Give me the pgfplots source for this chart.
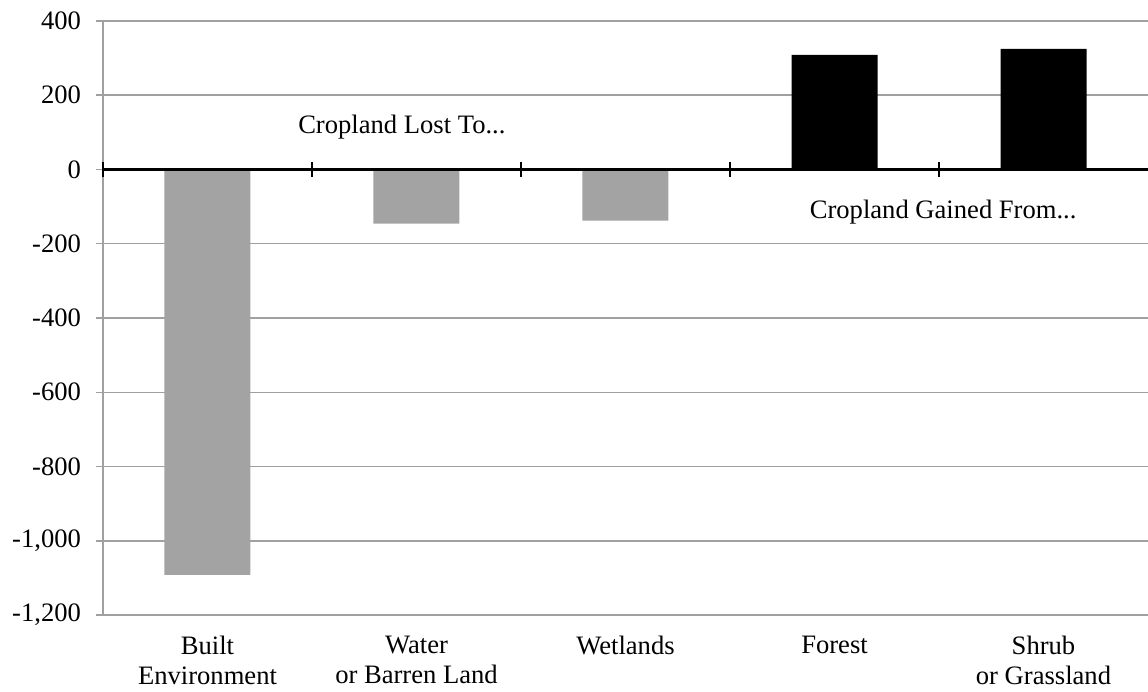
\documentclass[border=0pt]{standalone}
\usepackage{fontspec}
\setmainfont{Liberation Serif}
\usepackage{pgfplots}
\pgfplotsset{compat=1.18}
\definecolor{gridgray}{RGB}{160,160,160}
\definecolor{bargray}{RGB}{163,163,163}
\begin{document}
\begin{tikzpicture}
\path[use as bounding box] (-51.5pt,-38.5pt) rectangle (522.5pt,307.5pt);
\begin{axis}[
  scale only axis, width=522.5pt, height=297pt,
  at={(0,0)}, anchor=south west,
  xmin=-0.5, xmax=4.5, ymin=-1200, ymax=400,
  ytick={-1200,-1000,...,400},
  xtick={0,1,2,3,4},
  xticklabels={Built\\Environment, Water\\or Barren Land, Wetlands, Forest, Shrub\\or Grassland},
  xticklabel style={align=center, font=\fontsize{13.3}{15.2}\selectfont, yshift=-3.3pt},
  yticklabel style={font=\fontsize{13.3}{15}\selectfont, xshift=-4pt},
  /pgf/number format/.cd, 1000 sep={,}, assume math mode=true, /pgfplots/.cd,
  axis x line*=bottom, axis y line*=left,
  axis line style={gridgray, line width=0.75pt, -},
  ymajorgrids, grid style={gridgray, line width=0.75pt},
  x tick style={draw=none}, major x tick style={draw=none},
  y tick style={gridgray, line width=0.75pt},
  tick align=outside, major tick length=3.5pt,
  extra y ticks={0}, extra y tick labels={},
  extra y tick style={grid style={black, line width=1.5pt}, tick style={draw=none}},
  clip=false,
]
\addplot[ybar, bar width=43pt, fill=bargray, draw=none] coordinates {(0,-1092) (1,-146) (2,-138)};
\addplot[ybar, bar width=43pt, fill=black, draw=none] coordinates {(3,309) (4,325)};
\addplot[black, line width=1.5pt, no marks] coordinates {(-0.5,0) (4.5,0)};
\addplot[only marks, mark=|, mark size=3.75pt, mark options={black, line width=1pt}] coordinates {(-0.5,0) (0.5,0) (1.5,0) (2.5,0) (3.5,0)};
\node[font=\fontsize{13.3}{15}\selectfont] at (axis cs:0.93,115) {Cropland Lost To...};
\node[font=\fontsize{13.3}{15}\selectfont] at (axis cs:3.52,-115) {Cropland Gained From...};
\end{axis}
\end{tikzpicture}
\end{document}
